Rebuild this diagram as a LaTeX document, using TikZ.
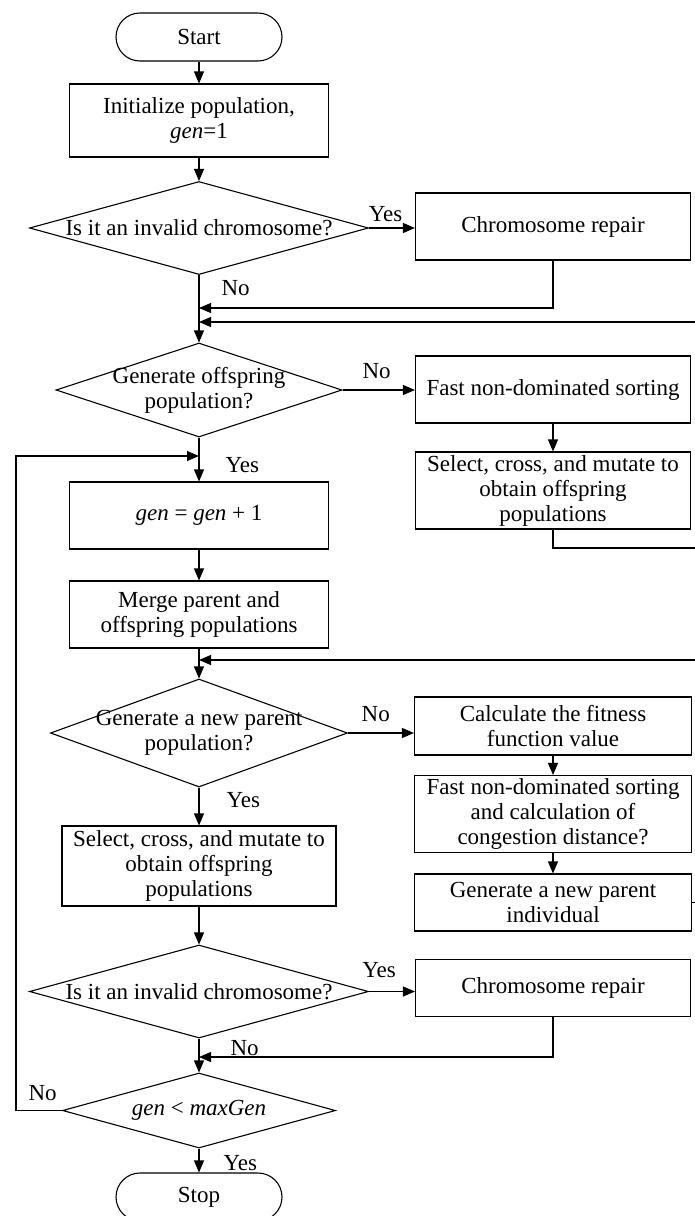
\documentclass[tikz,border=0pt]{standalone}
\usepackage{fontspec}
\setmainfont{Liberation Serif}
\usetikzlibrary{shapes.geometric,arrows.meta}

\begin{document}
\begin{tikzpicture}[x=1pt,y=-1pt,
font=\fontsize{23}{25}\selectfont,
every node/.style={inner sep=3pt},
line/.style={draw,line width=1.1pt},
arr/.style={line,-{Triangle[length=12pt,width=10pt]}},
term/.style={draw,line width=1.1pt,rectangle,rounded corners=24pt,minimum width=166pt,minimum height=48pt},
proc/.style={draw,line width=1.1pt,rectangle,align=center,minimum height=67pt},
dec/.style={draw,line width=1.1pt,diamond,inner sep=0pt}]
\useasboundingbox (0,0) rectangle (695,1216);
% main column
\node[term] (start) at (199,37) {Start};
\node[proc,minimum width=259pt,minimum height=73pt] (init) at (199,120.5) {Initialize population,\\\textit{gen}=1};
\node[dec,minimum width=339pt,minimum height=93pt,label={[align=center]center:Is it an invalid chromosome?}] (inv1) at (199,228) {};
\node[dec,minimum width=286pt,minimum height=94pt,label={[align=center]center:Generate offspring\\population?}] (offs) at (199,390) {};
\node[proc,minimum width=259pt] (gen) at (199,515.5) {\textit{gen} = \textit{gen} + 1};
\node[proc,minimum width=259pt] (merge) at (199,614.5) {Merge parent and\\offspring populations};
\node[dec,minimum width=297pt,minimum height=108pt,label={[align=center]center:Generate a new parent\\population?}] (newpar) at (199,733) {};
\node[proc,minimum width=274pt,minimum height=80pt] (sel2) at (199,866) {Select, cross, and mutate to\\obtain offspring\\populations};
\node[dec,minimum width=339pt,minimum height=93pt,label={[align=center]center:Is it an invalid chromosome?}] (inv2) at (199,991.5) {};
\node[dec,minimum width=273pt,minimum height=75pt,label={center:\textit{gen} < \textit{maxGen}}] (maxg) at (199,1110.5) {};
\node[term] (stop) at (199,1197) {Stop};
% right column
\node[proc,minimum width=275pt] (rep1) at (553,226.5) {Chromosome repair};
\node[proc,minimum width=275pt] (fnds1) at (553,389.5) {Fast non-dominated sorting};
\node[proc,minimum width=275pt,minimum height=77pt] (sel1) at (553,490.5) {Select, cross, and mutate to\\obtain offspring\\populations};
\node[proc,minimum width=277pt,minimum height=58pt] (fit) at (553,726) {Calculate the fitness\\function value};
\node[proc,minimum width=277pt,minimum height=76pt] (fnds2) at (553,814) {Fast non-dominated sorting\\and calculation of\\congestion distance?};
\node[proc,minimum width=277pt,minimum height=57pt] (gnp) at (553,902.5) {Generate a new parent\\individual};
\node[proc,minimum width=275pt,minimum height=57pt] (rep2) at (553,988) {Chromosome repair};
% joints and loose ends
\coordinate (j1) at (199,308);
\coordinate (e1) at (695,322);
\coordinate (j2) at (199,322);
\coordinate (e2) at (695,548);
\coordinate (j3) at (199,456);
\coordinate (e3) at (695,660);
\coordinate (j4) at (199,660);
\coordinate (e4) at (695,902.5);
\coordinate (j5) at (199,1057);
\coordinate (lp) at (16,1110.5);
% connectors
\draw[arr] (start) -- (init);
\draw[arr] (init) -- (inv1);
\draw[arr] (inv1.east) -- node[pos=0.36,above=3pt]{Yes} (inv1.east -| rep1.west);
\draw[arr] (inv1) -- node[pos=0.19,right=19pt]{No} (offs);
\draw[arr] (rep1) |- (j1);
\draw[arr] (e1) -- (j2);
\draw[arr] (offs.east) -- node[pos=0.47,above=8pt]{No} (offs.east -| fnds1.west);
\draw[arr] (fnds1) -- (sel1);
\draw[line] (sel1) |- (e2);
\draw[arr] (offs) -- node[pos=0.63,right=23pt]{Yes} (gen);
\draw[arr] (gen) -- (merge);
\draw[arr] (e3) -- (j4);
\draw[arr] (merge) -- (newpar);
\draw[arr] (newpar.east) -- node[pos=0.42,above=8pt]{No} (newpar.east -| fit.west);
\draw[arr] (fit) -- (fnds2);
\draw[arr] (fnds2) -- (gnp);
\draw[line] (gnp.east) -- (e4);
\draw[arr] (newpar) -- node[pos=0.33,right=24pt]{Yes} (sel2);
\draw[arr] (sel2) -- (inv2);
\draw[arr] (inv2.east) -- node[pos=0.22,above=10pt]{Yes} (inv2.east -| rep2.west);
\draw[arr] (rep2) |- (j5);
\draw[arr] (inv2) -- node[pos=0.29,right=28pt]{No} (maxg);
\draw[arr] (maxg) -- node[pos=0.6,right=21pt]{Yes} (stop);
\draw[arr] (maxg.west) -- node[pos=0.42,above=6pt]{No} (lp) |- (j3);
\end{tikzpicture}
\end{document}
